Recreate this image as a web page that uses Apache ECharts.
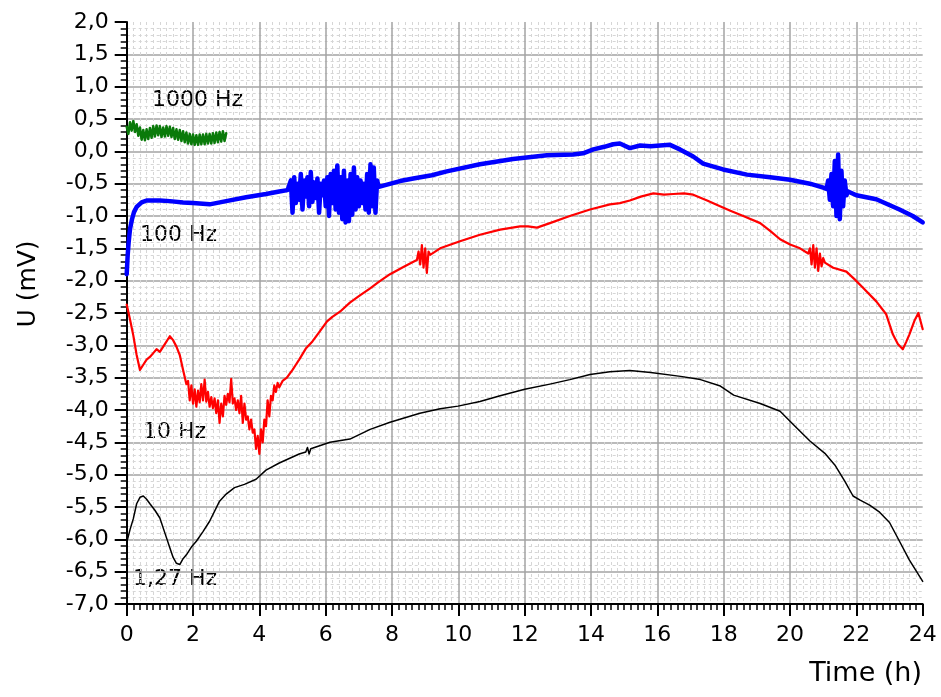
<!DOCTYPE html>
<html>
<head>
<meta charset="utf-8">
<script src="https://cdn.jsdelivr.net/npm/echarts@6/dist/echarts.min.js"></script>
<style>
  html, body { margin: 0; padding: 0; background: #fff; }
  #chart { width: 941px; height: 697px; }
</style>
</head>
<body>
<div id="chart"></div>
<script>
// Time axis (h) and voltage axis (mV) ranges
const xTicks = { min: 0, max: 24, step: 2 };
const yTicks = { min: -7, max: 2, step: 0.5 };

// Signal at 1000 Hz: [time h, U mV]
const hz1000 = [
  [0.00,0.38],[0.05,0.27],[0.10,0.45],[0.15,0.32],[0.20,0.47],[0.25,0.30],[0.30,0.42],[0.35,0.24],
  [0.40,0.37],[0.45,0.18],[0.50,0.33],[0.55,0.17],[0.60,0.34],[0.65,0.19],[0.70,0.36],[0.75,0.21],
  [0.80,0.39],[0.85,0.23],[0.90,0.40],[0.95,0.25],[1.00,0.39],[1.05,0.22],[1.10,0.37],[1.15,0.23],
  [1.20,0.39],[1.25,0.24],[1.30,0.38],[1.35,0.22],[1.40,0.36],[1.45,0.19],[1.50,0.34],[1.55,0.18],
  [1.60,0.33],[1.65,0.16],[1.70,0.31],[1.75,0.14],[1.80,0.29],[1.85,0.12],[1.90,0.27],[1.95,0.11],
  [2.00,0.26],[2.05,0.10],[2.10,0.25],[2.15,0.10],[2.20,0.26],[2.25,0.11],[2.30,0.26],[2.35,0.11],
  [2.40,0.27],[2.45,0.12],[2.50,0.27],[2.55,0.12],[2.60,0.28],[2.65,0.13],[2.70,0.29],[2.75,0.14],
  [2.80,0.30],[2.85,0.15],[2.90,0.31],[2.95,0.16],[3.00,0.28]
];

// Signal at 100 Hz
const hz100 = [
  [0,-1.9],[0.03,-1.6],[0.06,-1.4],[0.1,-1.2],[0.16,-1.05],[0.22,-0.94],[0.3,-0.86],[0.45,-0.79],
  [0.6,-0.76],[1.0,-0.76],[1.3,-0.77],[1.7,-0.79],[2.0,-0.8],[2.5,-0.82],[3.0,-0.77],[3.6,-0.71],
  [4.2,-0.66],[4.6,-0.62],[4.85,-0.6],
  [4.90,-0.58],[4.95,-0.45],[5.00,-0.95],[5.05,-0.40],[5.10,-0.80],[5.15,-0.50],[5.20,-0.75],[5.25,-0.35],
  [5.30,-0.90],[5.35,-0.45],[5.40,-0.70],[5.45,-0.40],[5.50,-0.85],[5.55,-0.32],[5.60,-0.78],[5.65,-0.48],
  [5.70,-0.72],[5.75,-0.42],[5.80,-0.95],[5.85,-0.50],[5.90,-0.68],[5.95,-0.45],[6.00,-0.85],[6.05,-0.40],
  [6.10,-1.00],[6.15,-0.35],[6.20,-0.80],[6.25,-0.30],[6.30,-0.90],[6.35,-0.22],[6.40,-0.95],[6.45,-0.40],
  [6.50,-1.05],[6.55,-0.30],[6.60,-1.10],[6.65,-0.45],[6.70,-1.08],[6.75,-0.35],[6.80,-0.98],[6.85,-0.25],
  [6.90,-0.90],[6.95,-0.40],[7.00,-0.85],[7.05,-0.45],[7.10,-0.80],[7.15,-0.50],[7.20,-0.90],[7.25,-0.35],
  [7.30,-0.95],[7.35,-0.20],[7.40,-0.85],[7.45,-0.25],[7.50,-0.95],[7.55,-0.45],[7.60,-0.55],
  [7.64,-0.53],[8.24,-0.46],[8.64,-0.42],[9.2,-0.37],[9.65,-0.31],[10.65,-0.2],[11.65,-0.12],[12.67,-0.06],
  [13.46,-0.05],[13.76,-0.03],[14.07,0.03],[14.4,0.07],[14.67,0.11],[14.87,0.12],[15.17,0.05],[15.48,0.09],
  [15.8,0.08],[16.08,0.09],[16.38,0.1],[16.68,0.03],[17.08,-0.08],[17.38,-0.19],[17.98,-0.28],[18.7,-0.36],
  [19.4,-0.4],[20.0,-0.44],[20.6,-0.5],[21.0,-0.56],
  [21.10,-0.58],[21.15,-0.45],[21.20,-0.75],[21.25,-0.35],[21.30,-0.85],[21.35,-0.15],[21.40,-1.00],
  [21.45,-0.05],[21.50,-1.05],[21.55,-0.30],[21.60,-0.85],[21.65,-0.45],[21.70,-0.68],[21.75,-0.62],
  [22.0,-0.68],[22.6,-0.74],[23.3,-0.9],[23.7,-1.0],[24,-1.1]
];

// Signal at 10 Hz
const hz10 = [
  [0,-2.37],[0.1,-2.6],[0.2,-2.85],[0.3,-3.15],[0.4,-3.38],[0.5,-3.3],[0.6,-3.22],[0.7,-3.18],
  [0.8,-3.12],[0.9,-3.06],[1.0,-3.1],[1.05,-3.12],[1.15,-2.98],[1.3,-2.86],[1.4,-2.92],[1.5,-3.02],
  [1.6,-3.15],[1.7,-3.38],[1.8,-3.6],
  [1.85,-3.55],[1.90,-3.85],[1.95,-3.62],[2.00,-3.9],[2.05,-3.68],[2.10,-3.95],[2.15,-3.7],[2.20,-3.88],
  [2.25,-3.6],[2.30,-3.85],[2.35,-3.53],[2.40,-3.87],[2.45,-3.72],[2.50,-3.95],[2.55,-3.8],[2.60,-3.97],
  [2.65,-3.82],[2.70,-4.05],[2.75,-3.85],[2.80,-4.2],[2.85,-3.9],[2.90,-4.1],[2.95,-3.78],[3.00,-3.92],
  [3.05,-3.75],[3.10,-3.88],[3.15,-3.52],[3.20,-3.9],[3.25,-3.82],[3.30,-4.0],[3.35,-3.85],[3.40,-4.05],
  [3.45,-3.78],[3.50,-4.2],[3.55,-3.9],[3.60,-4.15],[3.65,-4.1],[3.70,-4.3],[3.75,-4.15],[3.80,-4.35],
  [3.85,-4.3],[3.90,-4.6],[3.95,-4.4],[4.00,-4.68],[4.05,-4.3],[4.10,-4.5],[4.15,-4.15],[4.20,-4.25],
  [4.25,-3.85],[4.30,-4.1],[4.35,-3.78],[4.40,-3.85],[4.45,-3.62],[4.50,-3.72],[4.55,-3.58],[4.60,-3.65],
  [4.7,-3.55],[4.83,-3.5],[4.9,-3.45],[5.0,-3.38],[5.1,-3.3],[5.2,-3.22],[5.4,-3.05],[5.6,-2.94],
  [5.8,-2.8],[6.04,-2.63],[6.2,-2.56],[6.43,-2.48],[6.73,-2.34],[7.0,-2.24],[7.34,-2.12],[7.6,-2.02],
  [7.94,-1.9],[8.3,-1.8],[8.6,-1.72],[8.75,-1.68],
  [8.80,-1.55],[8.85,-1.75],[8.90,-1.45],[8.95,-1.8],[9.00,-1.5],[9.05,-1.88],[9.10,-1.55],[9.15,-1.6],
  [9.45,-1.5],[10.05,-1.39],[10.65,-1.29],[11.26,-1.21],[11.86,-1.16],[12.1,-1.16],[12.37,-1.18],
  [12.76,-1.11],[13.36,-1.0],[13.97,-0.9],[14.57,-0.82],[14.87,-0.8],[15.17,-0.76],[15.5,-0.7],
  [15.88,-0.65],[16.2,-0.67],[16.48,-0.66],[16.8,-0.65],[17.08,-0.67],[17.5,-0.76],[17.89,-0.85],
  [18.2,-0.92],[18.59,-1.0],[19.1,-1.11],[19.4,-1.23],[19.7,-1.36],[20.0,-1.44],[20.3,-1.5],[20.55,-1.58],
  [20.60,-1.5],[20.65,-1.75],[20.70,-1.45],[20.75,-1.8],[20.80,-1.5],[20.85,-1.85],[20.90,-1.58],
  [20.95,-1.78],[21.00,-1.65],[21.05,-1.72],
  [21.3,-1.8],[21.7,-1.86],[21.95,-1.98],[22.2,-2.11],[22.6,-2.32],[22.9,-2.52],[23.1,-2.83],
  [23.25,-2.98],[23.4,-3.06],[23.5,-2.95],[23.6,-2.83],[23.75,-2.62],[23.87,-2.5],[24,-2.75]
];

// Signal at 1,27 Hz
const hz127 = [
  [0,-6.05],[0.1,-5.85],[0.2,-5.68],[0.3,-5.45],[0.4,-5.35],[0.5,-5.33],[0.6,-5.38],[0.7,-5.45],
  [0.85,-5.55],[1.0,-5.67],[1.15,-5.9],[1.3,-6.13],[1.4,-6.28],[1.5,-6.37],[1.6,-6.39],[1.7,-6.3],
  [1.8,-6.24],[1.95,-6.12],[2.1,-6.03],[2.3,-5.88],[2.5,-5.72],[2.8,-5.41],[3.0,-5.3],[3.25,-5.2],
  [3.55,-5.15],[3.9,-5.07],[4.2,-4.93],[4.6,-4.82],[5.2,-4.68],[5.4,-4.65],[5.45,-4.58],[5.5,-4.68],
  [5.55,-4.6],[5.6,-4.62],[6.13,-4.5],[6.73,-4.45],[7.34,-4.3],[7.94,-4.19],[8.84,-4.05],[9.45,-3.98],
  [9.99,-3.94],[10.65,-3.87],[11.26,-3.78],[12.0,-3.68],[12.76,-3.6],[13.36,-3.53],[13.97,-3.45],
  [14.57,-3.41],[15.17,-3.39],[15.8,-3.42],[16.7,-3.48],[17.3,-3.53],[17.9,-3.63],[18.3,-3.77],
  [19.1,-3.9],[19.7,-4.02],[20.15,-4.25],[20.6,-4.48],[21.05,-4.67],[21.35,-4.85],[21.65,-5.1],
  [21.9,-5.33],[22.1,-5.39],[22.4,-5.47],[22.7,-5.58],[23.0,-5.74],[23.3,-6.03],[23.6,-6.32],[24,-6.65]
];

// Curve captions
const captions = ['1000 Hz', '100 Hz', '10 Hz', '1,27 Hz'];
const axisTitles = { x: 'Time (h)', y: 'U (mV)' };

const FONT = 'DejaVu Sans';
const chart = echarts.init(document.getElementById('chart'), null, { renderer: 'canvas' });

const lineSeries = (name, data, color, width, z) => ({
  name, type: 'line', data, showSymbol: false, symbol: 'none', z,
  lineStyle: { color, width, join: 'round', cap: 'round' }, animation: false
});

const captionStyle = { fontFamily: FONT, fontSize: 22, fill: '#000' };

chart.setOption({
  animation: false,
  backgroundColor: '#fff',
  grid: { left: 126.7, right: 18.3, top: 22, bottom: 93, containLabel: false },
  xAxis: {
    type: 'value', min: xTicks.min, max: xTicks.max, interval: xTicks.step,
    axisLine: { show: true, onZero: false, lineStyle: { color: '#000', width: 2 } },
    axisTick: { show: true, length: 12, lineStyle: { color: '#000', width: 2 } },
    minorTick: { show: true, splitNumber: 10, length: 6, lineStyle: { color: '#000', width: 1.5 } },
    splitLine: { show: true, showMinLine: false, showMaxLine: false, lineStyle: { color: '#a3a3a3', width: 1.5 } },
    minorSplitLine: { show: true, lineStyle: { color: '#d6d6d6', width: 1, type: [3, 3] } },
    axisLabel: { color: '#000', fontFamily: FONT, fontSize: 22, margin: 20 }
  },
  yAxis: {
    type: 'value', min: yTicks.min, max: yTicks.max, interval: yTicks.step,
    axisLine: { show: true, onZero: false, lineStyle: { color: '#000', width: 2 } },
    axisTick: { show: true, length: 12, lineStyle: { color: '#000', width: 2 } },
    minorTick: { show: true, splitNumber: 5, length: 6, lineStyle: { color: '#000', width: 1.5 } },
    splitLine: { show: true, showMinLine: false, showMaxLine: false, lineStyle: { color: '#a3a3a3', width: 1.5 } },
    minorSplitLine: { show: true, lineStyle: { color: '#d6d6d6', width: 1, type: [3, 3] } },
    axisLabel: {
      color: '#000', fontFamily: FONT, fontSize: 22, margin: 18,
      formatter: v => v.toFixed(1).replace('.', ',')
    }
  },
  series: [
    lineSeries('1,27 Hz', hz127, '#000000', 1.5, 4),
    lineSeries('10 Hz', hz10, '#ff0000', 2.2, 3),
    lineSeries('100 Hz', hz100, '#0000ff', 4.5, 2),
    lineSeries('1000 Hz', hz1000, '#0a7a0a', 2.5, 5)
  ],
  graphic: [
    { type: 'text', left: 152, top: 89, style: Object.assign({ text: captions[0] }, captionStyle) },
    { type: 'text', left: 140, top: 224, style: Object.assign({ text: captions[1] }, captionStyle) },
    { type: 'text', left: 143, top: 421, style: Object.assign({ text: captions[2] }, captionStyle) },
    { type: 'text', left: 133, top: 568, style: Object.assign({ text: captions[3] }, captionStyle) },
    { type: 'text', right: 19, top: 660, style: { text: axisTitles.x, fontFamily: FONT, fontSize: 27, fill: '#000' } },
    { type: 'text', x: 28, y: 284, rotation: Math.PI / 2,
      style: { text: axisTitles.y, fontFamily: FONT, fontSize: 25, fill: '#000', align: 'center', verticalAlign: 'middle' } }
  ]
});
</script>
</body>
</html>
